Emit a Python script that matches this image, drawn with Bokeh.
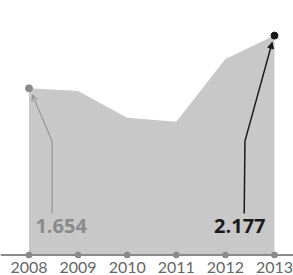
from bokeh.plotting import figure
from bokeh.models import Range1d, Span, Arrow, NormalHead, OpenHead, FixedTicker
from bokeh.core.properties import value
from bokeh.embed import file_html
from bokeh.resources import INLINE

years = [2008, 2009, 2010, 2011, 2012, 2013]
values = [1.654, 1.628, 1.362, 1.322, 1.944, 2.177]
year_labels = ["2008", "2009", "2010", "2011", "2012", "2013"]
first_label = "1.654"
last_label = "2.177"

AREA = "#c8c8c8"
GREY = "#8a8a8a"
DARK = "#1a1a1a"

p = figure(width=293, height=275, output_backend="svg", toolbar_location=None,
           x_range=Range1d(2007.4196, 2013.387), y_range=Range1d(-0.034, 2.5254),
           min_border_left=0, min_border_right=0, min_border_top=0, min_border_bottom=0)
p.outline_line_color = None
p.grid.visible = False
p.yaxis.visible = False
p.background_fill_color = None
p.border_fill_color = None

# area
p.varea(x=years, y1=[0] * len(years), y2=values, fill_color=AREA)

# baseline
p.add_layout(Span(location=0, dimension="width", line_color=GREY, line_width=2))
p.scatter(years, [0] * len(years), size=6, color=GREY)

# end points
p.scatter([years[0]], [values[0]], size=7, color=GREY)
p.scatter([years[-1]], [values[-1]], size=7, color=DARK)

# callouts
ly, ey = 0.412, 1.13
lx = years[0] + 0.47
p.line([lx, lx], [ly, ey], line_color=GREY, line_width=1)
p.add_layout(Arrow(end=OpenHead(size=6, line_color=GREY, line_width=1),
                   x_start=lx, y_start=ey, x_end=years[0] + 0.07, y_end=values[0] - 0.066,
                   line_color=GREY, line_width=1))
rx = years[-1] - 0.617
p.line([rx, rx + 0.015], [ly, ey], line_color=DARK, line_width=1.5)
p.add_layout(Arrow(end=NormalHead(size=6, fill_color=DARK, line_color=DARK),
                   x_start=rx + 0.015, y_start=ey, x_end=years[-1] - 0.047, y_end=values[-1] - 0.067,
                   line_color=DARK, line_width=1.5))

p.text([years[0] + 0.13], [0.287], text=[first_label], text_font=value("Open Sans"),
       text_font_style="bold", text_font_size="20px", text_color=GREY,
       text_align="left", text_baseline="middle")
p.text([years[-1] - 0.183], [0.287], text=[last_label], text_font=value("Open Sans"),
       text_font_style="bold", text_font_size="20px", text_color=DARK,
       text_align="right", text_baseline="middle")

# axis
ax = p.xaxis[0]
ax.ticker = FixedTicker(ticks=years)
ax.major_label_overrides = {y: l for y, l in zip(years, year_labels)}
ax.axis_line_color = None
ax.major_tick_line_color = None
ax.minor_tick_line_color = None
ax.major_tick_out = 0
ax.major_tick_in = 0
ax.major_label_standoff = 3
ax.major_label_text_font = "Lato"
ax.major_label_text_font_size = "16px"
ax.major_label_text_color = "#666666"

open("out.html", "w").write(file_html(p, INLINE))
